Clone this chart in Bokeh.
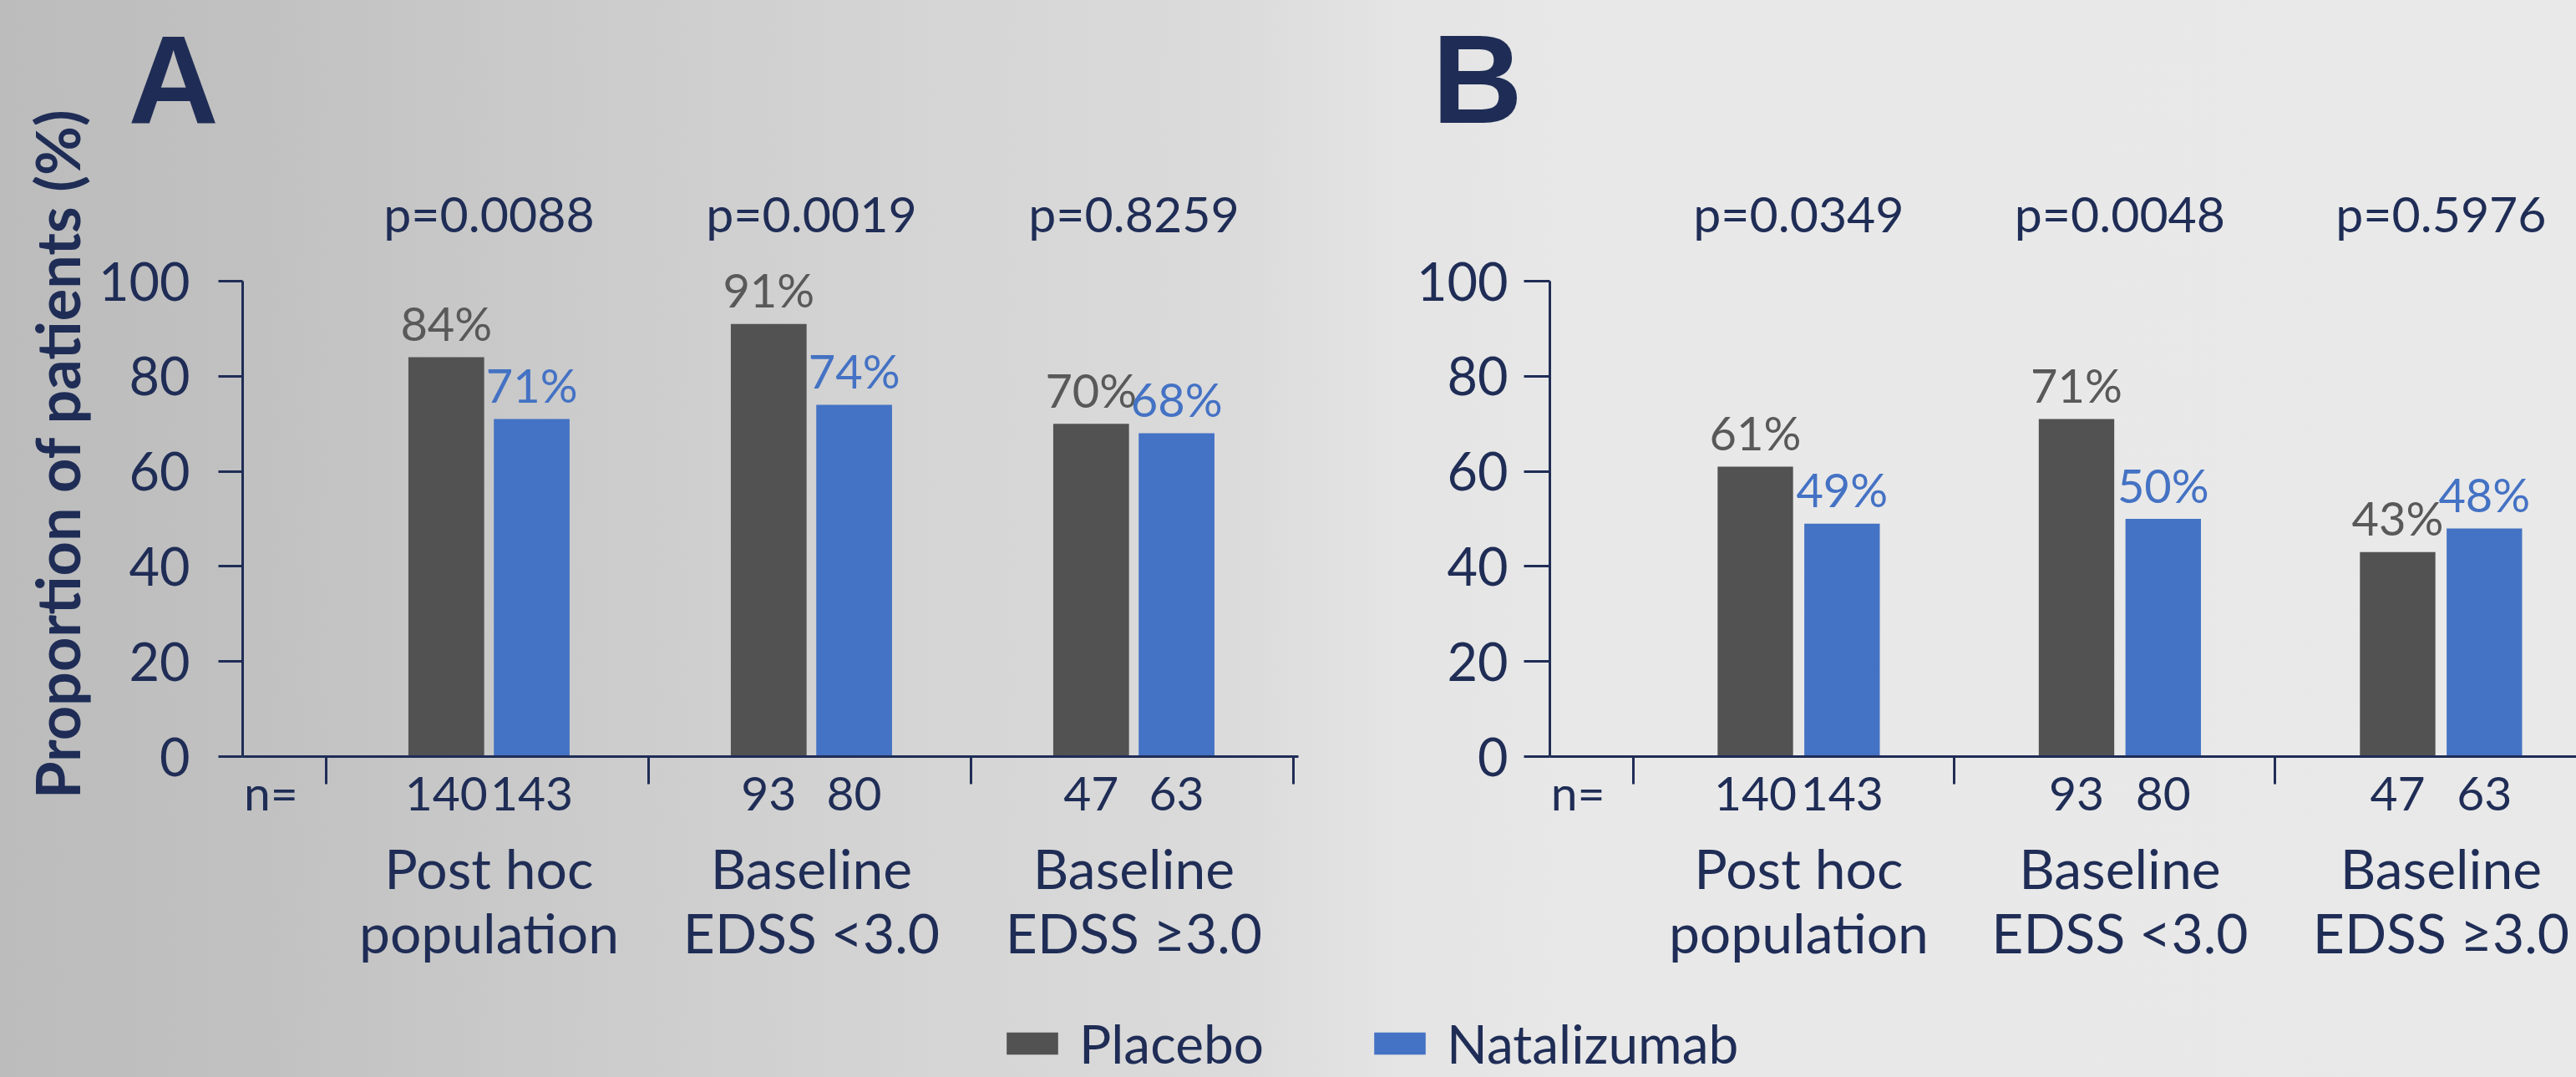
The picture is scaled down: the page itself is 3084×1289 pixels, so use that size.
from bokeh.plotting import figure
from bokeh.layouts import row, column
from bokeh.models import (ColumnDataSource, FixedTicker, LinearAxis, Range1d,
                          Legend, LegendItem)
from bokeh.core.properties import value
from bokeh.embed import file_html
from bokeh.resources import INLINE

# ---- data -------------------------------------------------------------
groups = ["Post hoc\npopulation", "Baseline\nEDSS <3.0", "Baseline\nEDSS \u22653.0"]
n_placebo = [140, 93, 47]
n_natalizumab = [143, 80, 63]

a_placebo = [84, 91, 70]
a_natalizumab = [71, 74, 68]
a_pvalues = ["p=0.0088", "p=0.0019", "p=0.8259"]

b_placebo = [61, 71, 43]
b_natalizumab = [49, 50, 48]
b_pvalues = ["p=0.0349", "p=0.0048", "p=0.5976"]

y_ticks = [0, 20, 40, 60, 80, 100]

# ---- style ------------------------------------------------------------
FONT = "Lato"
LETTER_FONT = "Liberation Sans"
NAVY = "#1F2D56"
GREY = "#525252"
GREY_TXT = "#595959"
BLUE = "#4472C4"
PAGE_W = 3084
PX_PER_UNIT = 5.69      # vertical pixels per percentage point
TOP = 180               # space above the plot area, holds the panel letter
ZERO_ROW = 905          # pixel row of the zero line
CHART_H = 1180          # height of each chart panel
LEGEND_H = 1289 - CHART_H


def make_panel(letter, placebo, natal, pvals, width, border_left, border_right,
               x_start, x_end, shift, half, tick_out, tick_standoff,
               letter_offset, y_title=None):
    y_end = (ZERO_ROW - TOP) / PX_PER_UNIT
    p = figure(width=width, height=CHART_H, output_backend="svg",
               toolbar_location=None, tools="",
               x_range=Range1d(x_start, x_end), y_range=Range1d(0, y_end),
               min_border_left=border_left, min_border_right=border_right,
               min_border_top=TOP, min_border_bottom=CHART_H - ZERO_ROW,
               background_fill_color=None, border_fill_color=None,
               outline_line_color=None)
    p.grid.visible = False

    # panel letter
    p.title.text = letter
    p.title.align = "left"
    p.title.vertical_align = "top"
    p.title.offset = letter_offset
    p.title.standoff = 0
    p.title.text_font = LETTER_FONT
    p.title.text_font_style = "bold"
    p.title.text_font_size = "150px"
    p.title.text_color = NAVY

    centers = [i + 1 + shift for i in range(len(groups))]
    xs_p = [c - half for c in centers]
    xs_n = [c + half for c in centers]

    src_p = ColumnDataSource(dict(x=xs_p, top=placebo,
                                  lbl=[f"{v}%" for v in placebo]))
    src_n = ColumnDataSource(dict(x=xs_n, top=natal,
                                  lbl=[f"{v}%" for v in natal]))

    p.vbar(x="x", top="top", bottom=0, width=0.235, source=src_p,
           fill_color=GREY, line_color=None)
    p.vbar(x="x", top="top", bottom=0, width=0.235, source=src_n,
           fill_color=BLUE, line_color=None)

    for src, col in ((src_p, GREY_TXT), (src_n, BLUE)):
        p.text(x="x", y="top", text="lbl", source=src, text_align="center",
               text_baseline="alphabetic", y_offset=-41,
               text_font=value(FONT), text_font_size="56px", text_color=col)

    p.text(x=centers, y=[100] * len(centers), text=pvals, y_offset=-81,
           text_align="center", text_baseline="alphabetic",
           text_font=value(FONT), text_font_size="59px", text_color=NAVY)

    # y axis
    ya = p.yaxis[0]
    ya.ticker = FixedTicker(ticks=y_ticks)
    ya.bounds = (0, 100)
    ya.axis_line_color = NAVY
    ya.axis_line_width = 3
    ya.major_tick_line_color = NAVY
    ya.major_tick_line_width = 3
    ya.major_tick_out = tick_out
    ya.major_tick_in = 0
    ya.minor_tick_line_color = None
    ya.major_label_standoff = tick_standoff
    ya.major_label_text_font = FONT
    ya.major_label_text_font_size = "63px"
    ya.major_label_text_color = NAVY

    # x axis: sample sizes under each bar, separators between groups
    n_pos = 0.329
    xa = p.xaxis[0]
    xa.ticker = FixedTicker(ticks=[n_pos] + xs_p + xs_n,
                            minor_ticks=[0.5, 1.5, 2.5, 3.5])
    overrides = {n_pos: "n="}
    for x, n in zip(xs_p, n_placebo):
        overrides[x] = str(n)
    for x, n in zip(xs_n, n_natalizumab):
        overrides[x] = str(n)
    xa.major_label_overrides = overrides
    xa.axis_line_color = NAVY
    xa.axis_line_width = 3
    xa.major_tick_line_color = None
    xa.major_tick_out = 0
    xa.major_tick_in = 0
    xa.minor_tick_line_color = NAVY
    xa.minor_tick_line_width = 3
    xa.minor_tick_out = 33
    xa.minor_tick_in = 0
    xa.major_label_standoff = -25
    xa.major_label_text_font = FONT
    xa.major_label_text_font_size = "57px"
    xa.major_label_text_color = NAVY

    # group names
    ca = LinearAxis(ticker=FixedTicker(ticks=centers),
                    major_label_overrides={c: g for c, g in zip(centers, groups)},
                    axis_line_color=None, major_tick_line_color=None,
                    minor_tick_line_color=None, major_tick_out=0,
                    major_tick_in=0, major_label_standoff=14,
                    major_label_text_font=FONT,
                    major_label_text_font_size="66px",
                    major_label_text_color=NAVY,
                    major_label_text_line_height=0.98)
    p.add_layout(ca, "below")

    if y_title is not None:
        ta = LinearAxis(ticker=FixedTicker(ticks=[]), bounds=(0, 122.7),
                        axis_label=y_title, axis_line_color=None,
                        major_tick_line_color=None, minor_tick_line_color=None,
                        major_tick_out=0, major_tick_in=0,
                        major_label_standoff=0, axis_label_standoff=4,
                        axis_label_text_font=FONT,
                        axis_label_text_font_style="bold",
                        axis_label_text_font_size="72px",
                        axis_label_text_color=NAVY)
        p.add_layout(ta, "left")
    return p


pa = make_panel("A", a_placebo, a_natalizumab, a_pvalues,
                width=1580, border_left=290, border_right=26,
                x_start=0.2409, x_end=3.5155, shift=0.005, half=0.1325,
                tick_out=29, tick_standoff=34, letter_offset=-137,
                y_title="Proportion of patients (%)")

pb = make_panel("B", b_placebo, b_natalizumab, b_pvalues,
                width=1504, border_left=275, border_right=0,
                x_start=0.2412, x_end=3.4376, shift=0.016, half=0.135,
                tick_out=31, tick_standoff=19, letter_offset=-141)

# legend strip; its bars sit outside the visible range and only feed the legend
pl = figure(width=PAGE_W, height=LEGEND_H, output_backend="svg",
            toolbar_location=None, tools="", x_axis_type=None,
            y_axis_type=None, x_range=Range1d(0, 1), y_range=Range1d(0, 1),
            min_border=0, background_fill_color=None, border_fill_color=None,
            outline_line_color=None)
pl.grid.visible = False
r_pl = pl.vbar(x=[5], top=[0.5], width=0.1, fill_color=GREY, line_color=None)
r_na = pl.vbar(x=[5], top=[0.5], width=0.1, fill_color=BLUE, line_color=None)

for name, rend, lx in (("Placebo", r_pl, 1197), ("Natalizumab", r_na, 1637)):
    pl.add_layout(Legend(items=[LegendItem(label=name, renderers=[rend])],
                         location=(lx, 2),
                         orientation="horizontal",
                         glyph_width=77, glyph_height=33, label_standoff=18,
                         label_text_font=FONT, label_text_font_size="64px",
                         label_text_color=NAVY,
                         label_text_baseline="middle",
                         padding=0, margin=0, spacing=0,
                         background_fill_alpha=0, border_line_color=None))

layout = column(row(pa, pb), pl, styles={
    "background": "linear-gradient(90deg, #bcbcbc 0%, #c1c1c1 10%, "
                  "#cbcbcb 22%, #d5d5d5 36%, #dbdbdb 48%, #e4e4e4 54%, "
                  "#e8e8e8 62%, #e9e9e9 100%)"})

open("out.html", "w").write(file_html(layout, INLINE))
